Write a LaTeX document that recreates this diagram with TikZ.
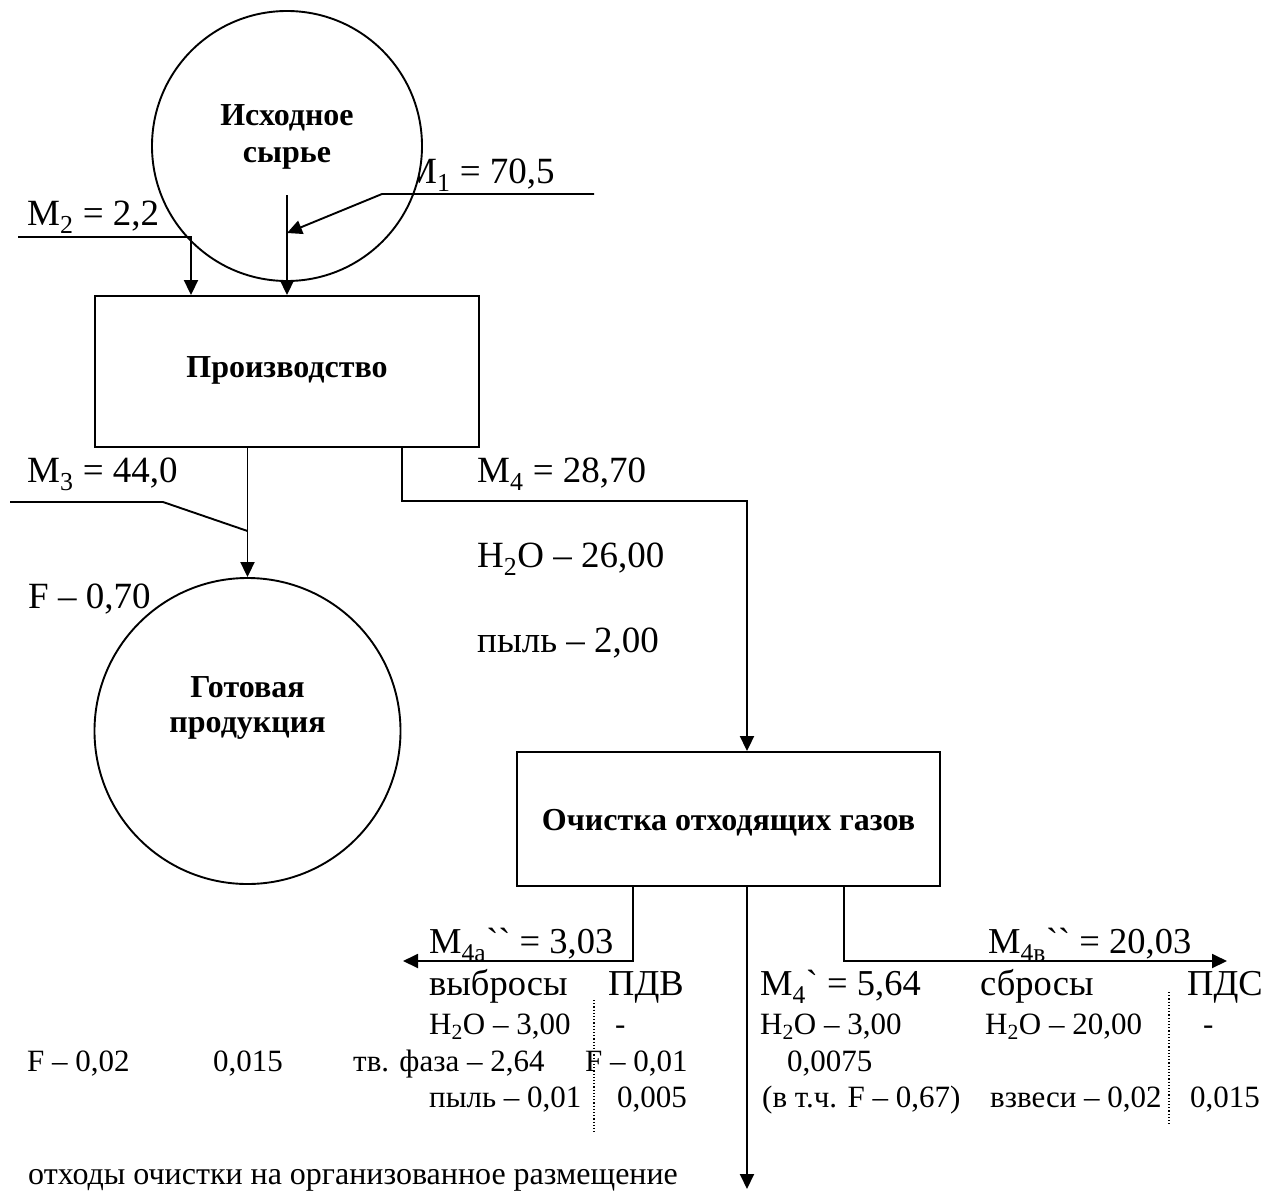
\documentclass[tikz,border=0pt]{standalone}
\usepackage{fontspec}
\setmainfont{Liberation Serif}[Ligatures=TeXOff]
\usetikzlibrary{arrows.meta}
\tikzset{
  conn/.style={line width=1.9pt},
  arr/.style={conn,-{Triangle[length=15pt,width=14pt]}},
  shapeline/.style={draw,line width=1.9pt,inner sep=0pt,fill=white},
  lbl/.style={anchor=base west,inner sep=0pt,font=\fontsize{37}{42}\selectfont},
  rowbig/.style={anchor=base west,inner sep=0pt,font=\fontsize{36.5}{42}\selectfont},
  rowsmall/.style={anchor=base west,inner sep=0pt,font=\fontsize{31}{36}\selectfont},
  btxt/.style={anchor=base,inner sep=0pt,font=\bfseries\fontsize{32}{38}\selectfont},
  sep/.style={dotted,line width=1.2pt}
}
\newcommand{\sbx}[1]{\textsubscript{#1}}
\begin{document}
\begin{tikzpicture}[x=1pt,y=-1pt]
\useasboundingbox (0,0) rectangle (1277,1191);

% label partly hidden behind the first circle
\node[lbl] (lm1) at (404,183) {М\sbx{1} = 70,5};

% shapes
\node[shapeline,circle,minimum size=270pt] (src) at (287,146) {};
\node[shapeline,minimum width=384pt,minimum height=151pt] (prod) at (287,371.5) {};
\node[shapeline,circle,minimum size=306pt] (prodout) at (247.5,731) {};
\node[shapeline,minimum width=423pt,minimum height=134pt] (clean) at (728.5,819) {};

% shape texts
\node[btxt] (srcA) at (287,125) {Исходное};
\node[btxt] (srcB) at (287,162) {сырье};
\node[btxt] (prodT) at (287,377) {Производство};
\node[btxt] (outA) at (247.5,697) {Готовая};
\node[btxt] (outB) at (247.5,732) {продукция};
\node[btxt] (cleanT) at (728.5,830) {Очистка отходящих газов};

% M1
\coordinate (m1s) at (594,194);
\coordinate (m1c) at (382,194);
\coordinate (m1t) at (287,233);
\coordinate (m1v) at (287,195);
\draw[arr] (m1s) -- (m1c) -- (m1t);
\draw[arr] (m1v) -- (m1v |- prod.north);
% M2
\coordinate (m2s) at (18,237);
\coordinate (m2c) at (191,237);
\draw[arr] (m2s) -- (m2c) -- (m2c |- prod.north);
% M3
\draw[arr] (prod.south -| prodout.north) -- (prodout.north);
\coordinate (m3s) at (10,502);
\coordinate (m3c) at (163,502);
\coordinate (m3t) at (247.5,531);
\draw[conn] (m3s) -- (m3c) -- (m3t);
% M4
\coordinate (m4a) at (402,501);
\coordinate (m4b) at (747,501);
\draw[arr] (m4a |- prod.south) -- (m4a) -- (m4b) -- (m4b |- clean.north);
% outputs of cleaning
\coordinate (la) at (633,961);
\coordinate (lb) at (403,961);
\draw[arr] (la |- clean.south) -- (la) -- (lb);
\coordinate (mb) at (747,1189);
\draw[arr] (mb |- clean.south) -- (mb);
\coordinate (ra) at (844,961);
\coordinate (rb) at (1227,961);
\draw[arr] (ra |- clean.south) -- (ra) -- (rb);
% dotted separators
\coordinate (d1a) at (594,1000);
\coordinate (d1b) at (594,1133);
\coordinate (d2a) at (1169,992);
\coordinate (d2b) at (1169,1125);
\draw[sep] (d1a) -- (d1b);
\draw[sep] (d2a) -- (d2b);

% labels
\node[lbl] (lm2) at (27,225) {М\sbx{2} = 2,2};
\node[lbl] (lm3) at (27,482) {М\sbx{3} = 44,0};
\node[lbl] (lm4) at (477,482) {М\sbx{4} = 28,70};
\node[lbl] (lh2o) at (477,567) {Н\sbx{2}О – 26,00};
\node[lbl] (ldust) at (477,652) {пыль – 2,00};
\node[lbl] (lf) at (28,608) {F – 0,70};

\node[rowbig] (lm4a) at (429,953) {М\sbx{4а}`` = 3,03};
\node[rowbig] (lm4b) at (988,953) {М\sbx{4в}`` = 20,03};

\node[rowbig] (r1a) at (429,995) {выбросы};
\node[rowbig] (r1b) at (608,995) {ПДВ};
\node[rowbig] (r1c) at (760,995) {М\sbx{4}` = 5,64};
\node[rowbig] (r1d) at (980,995) {сбросы};
\node[rowbig] (r1e) at (1187,995) {ПДС};

\node[rowsmall] (r2a) at (429,1034) {Н\sbx{2}О – 3,00};
\node[rowsmall] (r2b) at (615,1034) {-};
\node[rowsmall] (r2c) at (760,1034) {Н\sbx{2}О – 3,00};
\node[rowsmall] (r2d) at (985,1034) {Н\sbx{2}О – 20,00};
\node[rowsmall] (r2e) at (1203,1034) {-};

\node[rowsmall] (r3a) at (27,1071) {F – 0,02};
\node[rowsmall] (r3b) at (213,1071) {0,015};
\node[rowsmall] (r3c) at (353,1071) {тв. фаза – 2,64};
\node[rowsmall] (r3d) at (585,1071) {F – 0,01};
\node[rowsmall] (r3e) at (787,1071) {0,0075};

\node[rowsmall] (r4a) at (429,1107) {пыль – 0,01};
\node[rowsmall] (r4b) at (617,1107) {0,005};
\node[rowsmall] (r4c) at (762,1107) {(в т.ч. F – 0,67)};
\node[rowsmall] (r4d) at (990,1107) {взвеси – 0,02};
\node[rowsmall] (r4e) at (1190,1107) {0,015};

\node[rowsmall,font=\fontsize{32}{38}\selectfont] (bott) at (28,1184) {отходы очистки на организованное размещение};
\end{tikzpicture}
\end{document}
